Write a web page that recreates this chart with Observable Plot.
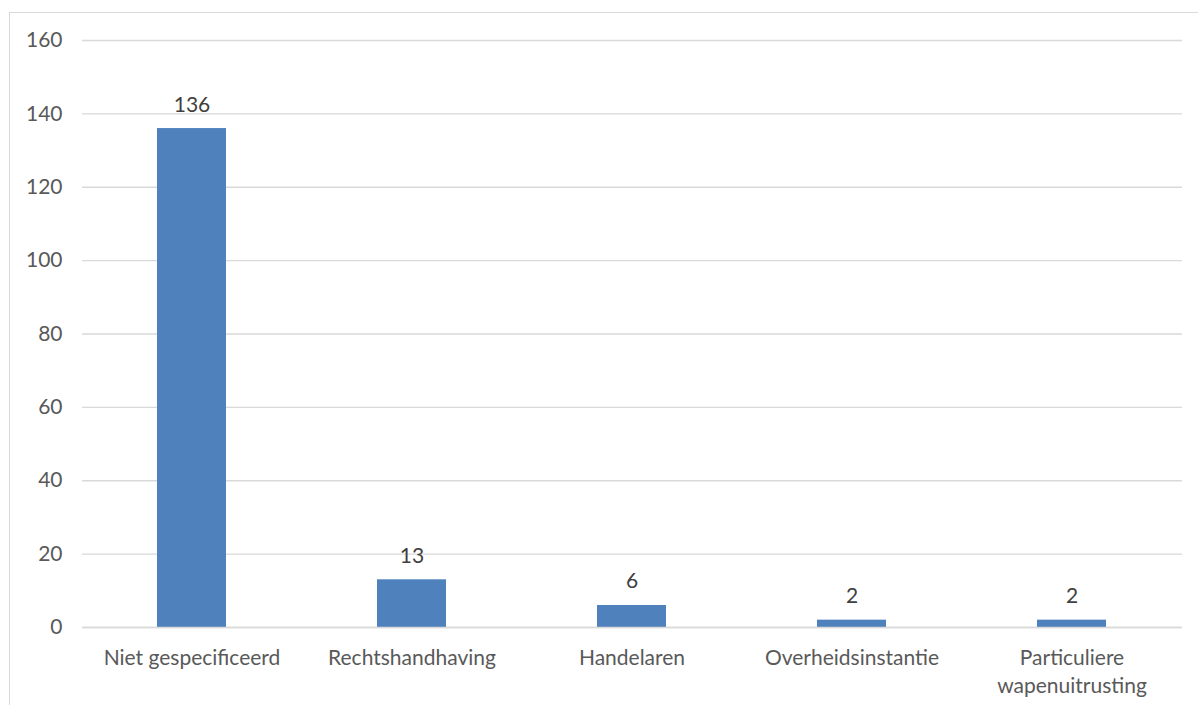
<!DOCTYPE html>
<html>
<head>
<meta charset="utf-8">
<script src="https://cdn.jsdelivr.net/npm/d3@7"></script>
<script src="https://cdn.jsdelivr.net/npm/@observablehq/plot@0.6"></script>
<style>
  html, body { margin: 0; padding: 0; background: #fff; overflow: hidden; }
  #wrap { position: relative; width: 1198px; height: 705px; }
  #border { position: absolute; left: 9px; top: 12px; width: 1300px; height: 800px; border: 1px solid #D9D9D9; box-sizing: border-box; }
  #chart { position: absolute; left: 0; top: 0; }
</style>
</head>
<body>
<div id="wrap"><div id="border"></div><div id="chart"></div></div>
<script>
const categories = ["Niet gespecificeerd", "Rechtshandhaving", "Handelaren", "Overheidsinstantie", "Particuliere\nwapenuitrusting"];
const values = [136, 13, 6, 2, 2];
const yTicks = [0, 20, 40, 60, 80, 100, 120, 140, 160];

const data = categories.map((c, i) => ({category: c, value: values[i]}));

const chart = Plot.plot({
  width: 1198,
  height: 705,
  marginLeft: 82,
  marginRight: 16,
  marginTop: 40,
  marginBottom: 78,
  style: {fontFamily: "Lato, 'Open Sans', sans-serif", fontSize: "21px", color: "#595959", background: "transparent"},
  x: {domain: categories, paddingInner: 0.686, paddingOuter: 0.343, align: 0.5, label: null},
  y: {domain: [0, 160], ticks: yTicks, label: null},
  marks: [
    Plot.gridY(yTicks, {stroke: "#D9D9D9", strokeOpacity: 1, strokeWidth: 1.3}),
    Plot.barY(data, {x: "category", y: "value", fill: "#4F81BD"}),
    Plot.ruleY([0], {stroke: "#D9D9D9", strokeWidth: 1.3}),
    Plot.text(data, {x: "category", y: "value", text: d => String(d.value), lineAnchor: "bottom", dy: -17, fill: "#404040", fontSize: 21}),
    Plot.axisY({ticks: yTicks, tickSize: 0, tickPadding: 20, fill: "#595959", fontSize: 21, label: null}),
    Plot.axisX({tickSize: 0, tickPadding: 18, fill: "#595959", fontSize: 21, lineHeight: 1.33, label: null})
  ]
});
document.getElementById("chart").appendChild(chart);
</script>
</body>
</html>
